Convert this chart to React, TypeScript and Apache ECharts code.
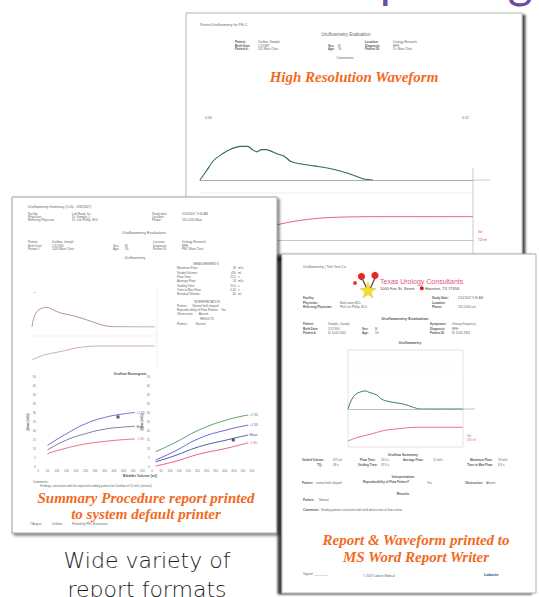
import React, { useEffect, useRef } from 'react';
import * as echarts from 'echarts';

// ---------- data ----------
// Page 1 (High Resolution Waveform)
const p1Time = [0, 1.5, 3, 4.5, 6.5, 9, 10.5, 11.5, 12.5, 13.5, 14.5, 17, 18.5, 20, 22, 25, 28, 31, 34, 36, 38];
const p1Flow = [0, 4.5, 9, 11.5, 14, 15.5, 15.5, 14, 13, 14, 14, 12, 11, 8.5, 7.5, 6.5, 5.5, 4, 2, 0.5, 0];
const p1VolTime = [0, 4, 8, 12, 16, 20, 24, 28, 32, 36, 38, 60];
const p1Vol = [0, 60, 180, 300, 440, 560, 640, 690, 710, 718, 720, 720];

// Page 2 (Summary Procedure report)
const p2Time = [0, 0.8, 2.3, 4.7, 7, 11, 14.2, 18.2, 23, 27.8, 32.6, 35.8, 39, 59];
const p2Flow = [0, 8.7, 15.3, 18.7, 19.7, 16.3, 13.7, 12, 9.3, 6, 2.7, 1, 0.3, 0];
const p2VolTime = [0, 5.6, 13.4, 23, 32.6, 59];
const p2Vol = [0, 160, 266, 406, 448, 448];

// Nomograms
const nomoVolL = [50, 150, 250, 350, 450, 510];
const nomoLUpper = [12, 18.5, 24, 27.5, 29.5, 30.3];
const nomoLMean = [9.5, 15, 18.5, 21, 22.2, 22.6];
const nomoLLower = [7.5, 10.5, 12.8, 14.2, 15.2, 15.6];
const patientL = [421, 27.8];
const nomoVolR = [20, 120, 260, 410, 530];
const nomoRA = [8.5, 13.2, 20.6, 26.1, 28.9];
const nomoRB = [3.9, 8.5, 15.9, 20.6, 23.3];
const nomoRC = [2.9, 6.1, 11.3, 15, 17.8];
const nomoRD = [0.6, 2.9, 7.2, 10.4, 13.5];
const patientR = [447, 15];

// Page 3 (MS Word report)
const p3Time = [0, 1, 2.8, 4.9, 8.9, 11.5, 15, 17.6, 21.9, 28.9, 34.1, 37.6, 60];
const p3Flow = [0, 3, 6.5, 8.3, 9.5, 8.6, 7.4, 5.1, 3.8, 2.6, 0.9, 0, 0];
const p3VolTime = [0, 4.7, 11.5, 18.5, 25.5, 35.9, 60];
const p3Vol = [0, 120, 230, 360, 420, 475, 475];

const measureLabels = ['Maximum Flow:', 'Voided Volume:', 'Flow Time:', 'Average Flow:', 'Voiding Time:', 'Time to Max Flow:', 'Residual Volume:'];
const measureValues = ['28', '450', '22.0', '13', '25.0', '5.20', '45'];
const measureUnits = ['ml/s', 'ml', 's', 'ml/s', 's', 's', 'ml'];

// ---------- helpers ----------
const zip = (a: number[], b: number[]) => a.map((v, i) => [v, b[i]]);

const SANS = 'Liberation Sans';
const SERIF = 'Liberation Serif';
const ORANGE = '#f36a1f';

function txt(x: number, y: number, text: string, fs: number, z: number, extra: any = {}) {
  return {
    type: 'text', x, y, z, silent: true,
    style: { text, fontSize: fs, fill: '#666', fontFamily: SANS, align: 'left', verticalAlign: 'middle', ...extra },
  };
}
const bold = { fontWeight: 'bold', fill: '#555' };
const center = { align: 'center' };
function line(x1: number, y1: number, x2: number, y2: number, z: number, stroke = '#bbb', w = 0.6) {
  return { type: 'line', z, silent: true, shape: { x1, y1, x2, y2 }, style: { stroke, lineWidth: w } };
}
function orange(x: number, y: number, text: string, z: number) {
  return txt(x, y, text, 15, z, { fill: ORANGE, fontFamily: SERIF, fontWeight: 'bold', fontStyle: 'italic', align: 'center' });
}

function valAxis(gridIndex: number, min: number, max: number, z: number, extra: any = {}) {
  return {
    type: 'value', gridIndex, min, max, z,
    axisLine: { show: false }, axisTick: { show: false }, axisLabel: { show: false }, splitLine: { show: false },
    ...extra,
  };
}
const tinyLabel = { show: true, fontSize: 3, color: '#777', margin: 2, fontFamily: SANS };

function lineSeries(data: number[][], axis: number, color: string, width: number, z: number, extra: any = {}) {
  return {
    type: 'line', data, xAxisIndex: axis, yAxisIndex: axis, z, symbol: 'none', silent: true,
    lineStyle: { color, width }, itemStyle: { color }, ...extra,
  };
}
function endLbl(text: string, color: string) {
  return { show: true, formatter: text, fontSize: 3, color, distance: 1.5, fontFamily: SANS };
}

function buildOption() {
  const g: any[] = [];

  // Top purple heading (cut off by the top edge)
  g.push({ type: 'text', x: 326, y: 3, z: 0, silent: true, style: { text: 'Reporting', fontSize: 48, fontFamily: 'Lato', fill: '#6c4aa2', align: 'left', verticalAlign: 'bottom' } });

  // ---------- Page 1 ----------
  g.push({ type: 'rect', z: 1, silent: true, shape: { x: 186, y: 13, width: 336, height: 245 },
    style: { fill: '#fff', stroke: '#b5b5b5', lineWidth: 1, shadowBlur: 2, shadowColor: 'rgba(0,0,0,0.7)', shadowOffsetX: 3, shadowOffsetY: 2 } });
  const z1 = 2;
  g.push(txt(200, 25, 'Patient Uroflowmetry for P.E.C.', 3.5, z1));
  g.push(txt(346, 34, 'Uroflowmetry Evaluation', 4.5, z1, center));
  [['Patient:', 'Uroflow, Sample'], ['Birth Date:', '1/1/1987'], ['Patient #:', '101 Main Clinic']].forEach((r, i) => {
    g.push(txt(235, 42 + i * 3.5, r[0], 3, z1, bold));
    g.push(txt(258, 42 + i * 3.5, r[1], 3, z1));
  });
  [['Sex:', 'M'], ['Age:', '56']].forEach((r, i) => {
    g.push(txt(328, 45.5 + i * 3.5, r[0], 3, z1, bold));
    g.push(txt(338, 45.5 + i * 3.5, r[1], 3, z1));
  });
  [['Location:', 'Urology Research'], ['Diagnosis:', 'BPH'], ['Patient ID:', 'Dr. Main Clinic']].forEach((r, i) => {
    g.push(txt(365, 42 + i * 3.5, r[0], 3, z1, bold));
    g.push(txt(393, 42 + i * 3.5, r[1], 3, z1));
  });
  g.push(txt(345, 58, 'Comments', 3.5, z1, center));
  g.push(orange(354, 77, 'High Resolution Waveform', z1));
  g.push(txt(205, 118, '0.00', 3.5, z1));
  g.push(txt(462, 118, '0:12', 3.5, z1));
  g.push(line(200, 193, 473, 193, z1, '#e2e2e2', 0.6));
  g.push(line(473, 168, 473, 253, z1, '#aaa', 0.6));
  g.push(line(473, 180, 490, 180, z1, '#aaa', 0.6));
  g.push(txt(478, 232, 'Vol', 3, z1, { fill: '#d94060' }));
  g.push(txt(478, 240, '720 ml', 3, z1, { fill: '#d94060' }));

  // ---------- Page 2 ----------
  g.push({ type: 'rect', z: 10, silent: true, shape: { x: 12, y: 197, width: 265, height: 336 },
    style: { fill: '#fff', stroke: '#a0a0a0', lineWidth: 1, shadowBlur: 3, shadowColor: 'rgba(0,0,0,0.55)', shadowOffsetX: 2, shadowOffsetY: 2 } });
  const z2 = 12;
  g.push(txt(28, 207, 'Uroflowmetry Summary (1.00 - 3/8/2007)', 3.5, z2));
  [['Facility:', 'Lab Road, Inc.'], ['Physician:', 'Dr. Sample, L.'], ['Referring Physician:', 'Dr. Lee Phillip, M.D.']].forEach((r, i) => {
    g.push(txt(28, 214 + i * 3, r[0], 3, z2));
    g.push(txt(72, 214 + i * 3, r[1], 3, z2));
  });
  [['Study date:', '2/14/2007, 9:30 AM'], ['Location:', ''], ['Phone:', '555-0100 Main']].forEach((r, i) => {
    g.push(txt(152, 214 + i * 3, r[0], 3, z2));
    g.push(txt(182, 214 + i * 3, r[1], 3, z2));
  });
  g.push(txt(144, 232, 'Uroflowmetry Evaluation', 4, z2, center));
  [['Patient:', 'Uroflow, Joseph'], ['Birth Date:', '1/1/1950'], ['Patient #:', '1024 Main Clinic']].forEach((r, i) => {
    g.push(txt(28, 242 + i * 3.3, r[0], 3, z2));
    g.push(txt(52, 242 + i * 3.3, r[1], 3, z2));
  });
  [['Sex:', 'M'], ['Age:', '56']].forEach((r, i) => {
    g.push(txt(113, 245.3 + i * 3.3, r[0], 3, z2));
    g.push(txt(125, 245.3 + i * 3.3, r[1], 3, z2));
  });
  [['Location:', 'Urology Research'], ['Diagnosis:', 'BPH'], ['Patient ID:', 'PEC Main Clinic']].forEach((r, i) => {
    g.push(txt(153, 242 + i * 3.3, r[0], 3, z2));
    g.push(txt(182, 242 + i * 3.3, r[1], 3, z2));
  });
  g.push(txt(135, 258, 'Uroflowmetry', 3.5, z2, center));
  g.push(txt(206, 264, 'MEASUREMENTS', 3, z2, center));
  measureLabels.forEach((l, i) => {
    g.push(txt(177, 268 + i * 4.3, l, 3, z2));
    g.push(txt(236, 268 + i * 4.3, measureValues[i], 3, z2, { align: 'right' }));
    g.push(txt(238, 268 + i * 4.3, measureUnits[i], 3, z2));
  });
  g.push(txt(207, 302, 'INTERPRETATION', 3, z2, center));
  g.push(txt(177, 306, 'Pattern:      Normal bell-shaped', 3, z2));
  g.push(txt(177, 310, 'Reproducibility of Flow Pattern:   Yes', 3, z2));
  g.push(txt(177, 314, 'Obstruction:       Absent', 3, z2));
  g.push(txt(207, 319, 'RESULTS', 3, z2, center));
  g.push(txt(177, 324, 'Pattern:          Normal', 3, z2));
  g.push(txt(33, 292, '—', 3, z2));
  g.push(line(30, 336, 157, 336, z2, '#e6e6e6', 0.6));
  g.push(line(157, 288, 157, 366, z2, '#e6e6e6', 0.6));
  g.push(txt(130, 374, 'Uroflow Nomogram', 3.5, z2, { ...bold, ...center }));
  g.push(txt(140, 476, 'Bladder Volume (ml)', 3.5, z2, { ...bold, ...center }));
  g.push(txt(33, 482, 'Comments:', 3, z2));
  g.push(txt(40, 486, 'Findings consistent with the expected voiding pattern for Uroflow of 15 ml/s (normal).', 3, z2));
  g.push(orange(146, 498, 'Summary Procedure report printed', z2));
  g.push(orange(146, 514, 'to system default printer', z2));
  g.push(txt(30, 524, '7 August', 3, z2));
  g.push(txt(52, 524, 'Uroflow', 3, z2));
  g.push(txt(72, 524, 'Printed by PEC Evaluation', 3, z2));

  // ---------- Page 3 ----------
  g.push({ type: 'rect', z: 20, silent: true, shape: { x: 282, y: 254, width: 254, height: 339 },
    style: { fill: '#fff', stroke: '#b0b0b0', lineWidth: 1, shadowBlur: 2, shadowColor: 'rgba(0,0,0,0.75)', shadowOffsetX: -4, shadowOffsetY: 1 } });
  const z3 = 22;
  g.push(txt(303, 267, 'Uroflowmetry | Test Test Co.', 3.5, z3));
  // logo
  g.push(line(362, 278, 367, 289, z3, '#5a3a2a', 1.2));
  g.push(line(375, 278, 370, 289, z3, '#5a3a2a', 1.2));
  g.push({ type: 'circle', z: z3, silent: true, shape: { cx: 361.5, cy: 276.5, r: 3.6 }, style: { fill: '#e02a2a' } });
  g.push({ type: 'circle', z: z3, silent: true, shape: { cx: 375, cy: 275.5, r: 3.6 }, style: { fill: '#e02a2a' } });
  g.push({ type: 'circle', z: z3, silent: true, shape: { cx: 355, cy: 283, r: 2 }, style: { fill: '#e04040' } });
  g.push({ type: 'polygon', z: z3, silent: true, shape: { points: [[368, 282], [370, 288], [376, 288.5], [371, 292], [373, 298], [368, 294.5], [363, 298], [365, 292], [360, 288.5], [366, 288]] }, style: { fill: '#f2e030', stroke: '#c8b820', lineWidth: 0.4 } });
  g.push(txt(380, 281, 'Texas Urology Consultants', 7, z3, { fill: '#e8507a' }));
  g.push(txt(380, 288.5, '1000 Fox St. Street', 4, z3, { fill: '#444' }));
  g.push({ type: 'circle', z: z3, silent: true, shape: { cx: 421.8, cy: 288.3, r: 2 }, style: { fill: '#e01818' } });
  g.push(txt(425, 288.5, 'Houston, TX 77056', 4, z3, { fill: '#444' }));
  [['Facility:', ''], ['Physician:', 'Bob Lowry M.D.'], ['Referring Physician:', 'Phil Lee Phillip, M.D.']].forEach((r, i) => {
    g.push(txt(303, 298 + i * 4.5, r[0], 3, z3, bold));
    g.push(txt(340, 298 + i * 4.5, r[1], 3, z3));
  });
  [['Study Date:', '2/14/2007 9:30 AM'], ['Location:', ''], ['Phone:', '555-0100 ext']].forEach((r, i) => {
    g.push(txt(432, 298 + i * 4.5, r[0], 3, z3, bold));
    g.push(txt(458, 298 + i * 4.5, r[1], 3, z3));
  });
  g.push(txt(405, 318, 'Uroflowmetry Evaluation', 4, z3, { ...bold, ...center }));
  [['Patient:', 'Sample, Joseph'], ['Birth Date:', '1/1/1950'], ['Patient #:', 'ID 1024-3301']].forEach((r, i) => {
    g.push(txt(303, 324 + i * 4.5, r[0], 3, z3, bold));
    g.push(txt(328, 324 + i * 4.5, r[1], 3, z3));
  });
  [['Sex:', 'M'], ['Age:', '56']].forEach((r, i) => {
    g.push(txt(362, 328.5 + i * 4.5, r[0], 3, z3, bold));
    g.push(txt(375, 328.5 + i * 4.5, r[1], 3, z3));
  });
  [['Symptoms:', 'Urinary frequency'], ['Diagnosis:', 'BPH'], ['Patient ID:', 'ID 1024-3301']].forEach((r, i) => {
    g.push(txt(430, 324 + i * 4.5, r[0], 3, z3, bold));
    g.push(txt(452, 324 + i * 4.5, r[1], 3, z3));
  });
  g.push(txt(410, 343, 'Uroflowmetry', 3.5, z3, { ...bold, ...center }));
  g.push({ type: 'rect', z: z3, silent: true, shape: { x: 348, y: 350, width: 115, height: 97 }, style: { fill: 'none', stroke: '#d0d0d0', lineWidth: 0.6 } });
  g.push(line(348, 368, 463, 368, z3, '#eeeeee', 0.5));
  g.push(line(463, 409, 475, 409, z3, '#999', 0.6));
  g.push(txt(467, 436, 'Vol', 3, z3, { fill: '#e0608a' }));
  g.push(txt(467, 440, '475 ml', 3, z3, { fill: '#e0608a' }));
  g.push(txt(403, 455, 'Uroflow Summary', 3.5, z3, { ...bold, ...center }));
  [[302, 'Voided Volume:', 333, '475 ml'], [360, 'Flow Time:', 381, '24.5 s'], [403, 'Average Flow:', 433, '12 ml/s'], [470, 'Maximum Flow:', 498, '18 ml/s']].forEach((r: any) => {
    g.push(txt(r[0], 460, r[1], 3, z3, bold));
    g.push(txt(r[2], 460, r[3], 3, z3));
  });
  [[317, 'TQ:', 333, '38 s'], [358, 'Voiding Time:', 381, '37.6 s'], [467, 'Time to Max Flow:', 498, '8.9 s']].forEach((r: any) => {
    g.push(txt(r[0], 465, r[1], 3, z3, bold));
    g.push(txt(r[2], 465, r[3], 3, z3));
  });
  g.push(txt(403, 477, 'Interpretation', 3.5, z3, { ...bold, ...center }));
  g.push(txt(302, 483, 'Pattern:', 3, z3, bold));
  g.push(txt(316, 483, 'normal bell-shaped', 3, z3));
  g.push(txt(363, 482, 'Reproducibility of Flow Pattern?', 3, z3, bold));
  g.push(txt(427, 483, 'Yes', 3, z3));
  g.push(txt(465, 483, 'Obstruction:', 3, z3, bold));
  g.push(txt(486, 483, 'Absent', 3, z3));
  g.push(txt(403, 494, 'Results', 3.5, z3, { ...bold, ...center }));
  g.push(txt(303, 500, 'Pattern:', 3, z3, bold));
  g.push(txt(319, 500, 'Normal', 3, z3));
  g.push(txt(303, 510, 'Comments:', 3, z3, bold));
  g.push(txt(321, 510, 'Voiding pattern consistent with mild obstruction at flow center.', 3, z3));
  g.push(orange(416, 540, 'Report & Waveform printed to', z3));
  g.push(orange(416, 557, 'MS Word Report Writer', z3));
  g.push(txt(303, 574, 'Signed: ________', 3, z3));
  g.push(txt(363, 576, '© 2007 Laborie Medical', 3, z3));
  g.push(txt(484, 574, 'Laborie', 4, z3, { fill: '#2a4a8a', fontWeight: 'bold' }));

  // ---------- caption ----------
  const cap = { fill: '#1e1e1e', fontFamily: 'DejaVu Sans', fontWeight: 200, align: 'center' };
  g.push(txt(147, 560, 'Wide variety of', 22, 30, cap));
  g.push(txt(147, 589, 'report formats', 22, 30, cap));

  const grids = [
    { left: 200, top: 115, width: 273, height: 65 },
    { left: 200, top: 205, width: 273, height: 35 },
    { left: 32, top: 297, width: 125, height: 30 },
    { left: 32, top: 335, width: 125, height: 25 },
    { left: 38, top: 377, width: 104.5, height: 90 },
    { left: 152, top: 377, width: 100, height: 90 },
    { left: 348, top: 352, width: 115, height: 57 },
    { left: 348, top: 415, width: 115, height: 26 },
  ];
  const axisLineOn = (c: string, w: number) => ({ axisLine: { show: true, onZero: false, lineStyle: { color: c, width: w } } });

  const xAxis = [
    valAxis(0, 0, 60, 3, axisLineOn('#8a8a8a', 0.7)),
    valAxis(1, 0, 60, 3, axisLineOn('#a0a0a0', 0.6)),
    valAxis(2, 0, 60, 12),
    valAxis(3, 0, 60, 12),
    valAxis(4, 0, 550, 12, { interval: 50, axisLabel: tinyLabel }),
    valAxis(5, 0, 550, 12, { interval: 50, axisLabel: tinyLabel }),
    valAxis(6, 0, 60, 22, axisLineOn('#999', 0.6)),
    valAxis(7, 0, 60, 22),
  ];
  const nomoY = (gi: number) => valAxis(gi, 0, 50, 12, {
    interval: 5, axisLabel: tinyLabel,
    name: 'Qmax (ml/s)', nameLocation: 'middle', nameRotate: 90, nameGap: 7,
    nameTextStyle: { fontSize: 3, fontWeight: 'bold', color: '#555', fontFamily: SANS },
  });
  const yAxis = [
    valAxis(0, 0, 30, 3),
    valAxis(1, 0, 1080, 3),
    valAxis(2, 0, 30, 12),
    valAxis(3, 0, 800, 12),
    nomoY(4),
    nomoY(5),
    valAxis(6, 0, 30, 22),
    valAxis(7, 0, 900, 22),
  ];

  const series = [
    lineSeries(zip(p1Time, p1Flow), 0, '#2f6a5a', 1.1, 3, { smooth: 0.3 }),
    lineSeries(zip(p1VolTime, p1Vol), 1, '#d94060', 0.8, 3, { smooth: 0.3 }),
    lineSeries(zip(p2Time, p2Flow), 2, '#a47878', 0.8, 12, { smooth: 0.3 }),
    lineSeries(zip(p2VolTime, p2Vol), 3, '#c49a9a', 0.8, 12, { smooth: 0.3 }),
    lineSeries(zip(nomoVolL, nomoLUpper), 4, '#6a5ad0', 0.9, 12, { smooth: true, endLabel: endLbl('+1 SD', '#6a5ad0') }),
    lineSeries(zip(nomoVolL, nomoLMean), 4, '#6a7090', 0.9, 12, { smooth: true, endLabel: endLbl('Mean', '#555') }),
    lineSeries(zip(nomoVolL, nomoLLower), 4, '#e26080', 0.9, 12, { smooth: true, endLabel: endLbl('-1 SD', '#e26080') }),
    { type: 'scatter', data: [patientL], xAxisIndex: 4, yAxisIndex: 4, z: 13, symbol: 'rect', symbolSize: 3, itemStyle: { color: '#2a2a50' }, silent: true },
    lineSeries(zip(nomoVolR, nomoRA), 5, '#4f9060', 0.9, 12, { smooth: true, endLabel: endLbl('+2 SD', '#4f9060') }),
    lineSeries(zip(nomoVolR, nomoRB), 5, '#5a55d8', 0.9, 12, { smooth: true, endLabel: endLbl('+1 SD', '#5a55d8') }),
    lineSeries(zip(nomoVolR, nomoRC), 5, '#3a4a9a', 0.9, 12, { smooth: true, endLabel: endLbl('Mean', '#3a4a9a') }),
    lineSeries(zip(nomoVolR, nomoRD), 5, '#e2507a', 0.9, 12, { smooth: true, endLabel: endLbl('-1 SD', '#e2507a') }),
    { type: 'scatter', data: [patientR], xAxisIndex: 5, yAxisIndex: 5, z: 13, symbol: 'rect', symbolSize: 3, itemStyle: { color: '#2a2a50' }, silent: true },
    lineSeries(zip(p3Time, p3Flow), 6, '#3d7a5e', 1, 22, { smooth: 0.3 }),
    lineSeries(zip(p3VolTime, p3Vol), 7, '#e0608a', 0.9, 22, { smooth: 0.3 }),
  ];

  return {
    animation: false,
    backgroundColor: '#ffffff',
    grid: grids.map((gr) => ({ ...gr, containLabel: false })),
    xAxis,
    yAxis,
    series,
    graphic: { elements: g },
  };
}

export default function App() {
  const ref = useRef<HTMLDivElement>(null);
  useEffect(() => {
    const chart = echarts.init(ref.current!, null, { renderer: 'svg' });
    chart.setOption(buildOption() as any);
    return () => chart.dispose();
  }, []);
  return <div ref={ref} style={{ position: 'fixed', left: 0, top: 0, width: 539, height: 597, background: '#fff' }} />;
}
